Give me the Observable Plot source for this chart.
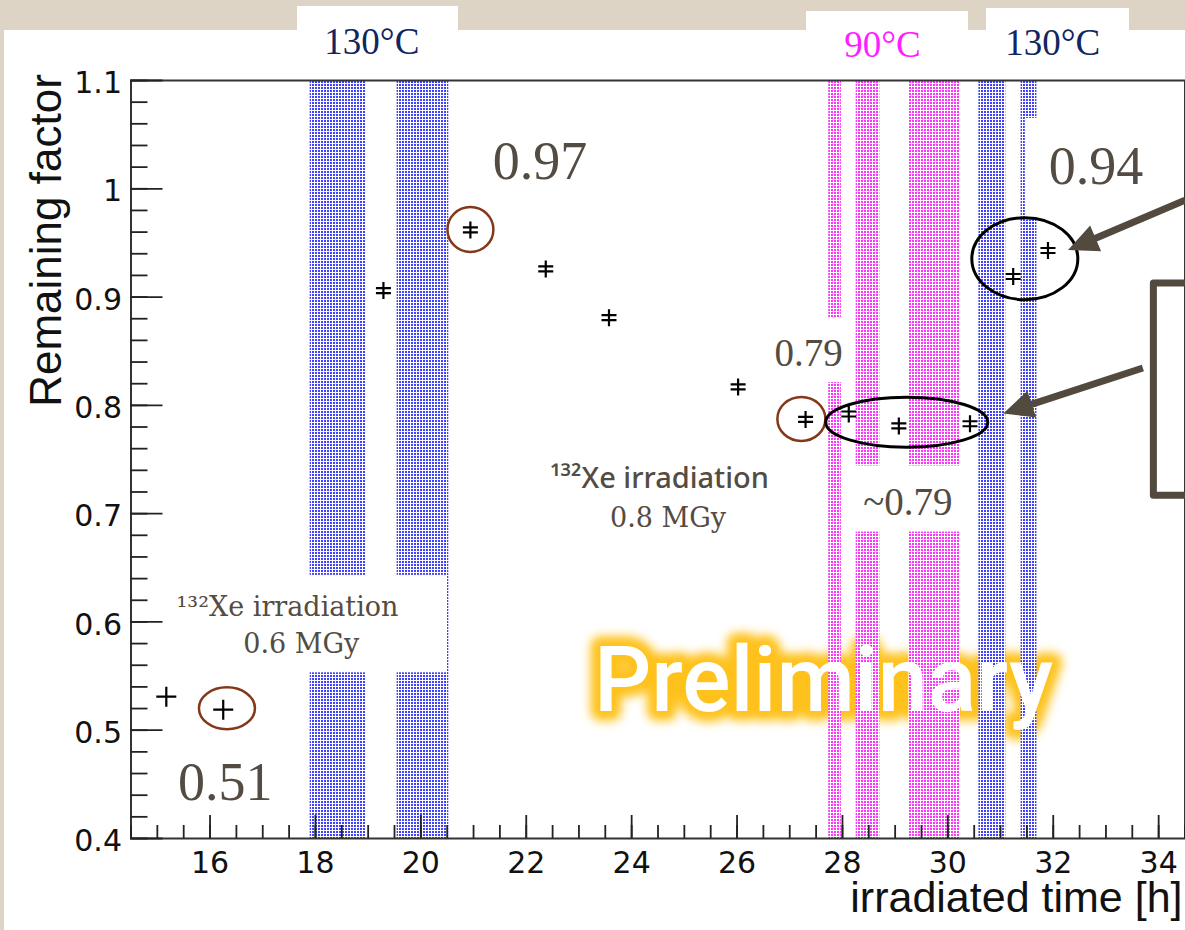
<!DOCTYPE html>
<html><head><meta charset="utf-8">
<script src="https://cdn.jsdelivr.net/npm/d3@7"></script>
<script src="https://cdn.jsdelivr.net/npm/@observablehq/plot@0.6"></script>
<style>
body{margin:0;background:#ddd4c5;}
#page{position:relative;width:1185px;height:930px;overflow:hidden;background:#ddd4c5;}
.w{position:absolute;background:#fff;}
#chart{position:absolute;left:0;top:0;}
</style></head><body>
<svg width="0" height="0" style="position:absolute">
<defs>
<pattern id="blueDots" width="3" height="3" patternUnits="userSpaceOnUse">
 <rect width="3" height="3" fill="#fff"/>
 <rect x="0" y="0" width="2" height="2" fill="#4040ff"/>
</pattern>
<pattern id="magentaDots" width="3" height="3" patternUnits="userSpaceOnUse">
 <rect width="3" height="3" fill="#fff"/>
 <rect x="0" y="0" width="2" height="2" fill="#ff34ff"/>
</pattern>
<filter id="glow" x="-20%" y="-50%" width="140%" height="200%"><feGaussianBlur stdDeviation="5"/></filter>
</defs></svg>
<div id="page">
 <div class="w" style="left:4px;top:30px;width:1181px;height:900px"></div>
 <div class="w" style="left:297px;top:6px;width:161px;height:30px"></div>
 <div class="w" style="left:806px;top:11px;width:162px;height:25px"></div>
 <div class="w" style="left:986px;top:8px;width:143px;height:28px"></div>
 <div id="chart"></div>
</div>
<script>
// ---- data ----
const times   = [15.17, 16.25, 19.29, 20.94, 22.37, 23.57, 26.02, 27.30, 28.12, 29.07, 30.42, 31.24, 31.90];
const factors = [0.531, 0.519, 0.906, 0.962, 0.926, 0.881, 0.817, 0.787, 0.792, 0.781, 0.783, 0.919, 0.943];
const blueBandStart    = [17.90, 19.55, 30.59, 31.39];
const blueBandEnd      = [18.95, 20.53, 31.10, 31.69];
const magentaBandStart = [27.74, 28.26, 29.26];
const magentaBandEnd   = [27.98, 28.71, 30.24];
const xTickLabels = [16, 18, 20, 22, 24, 26, 28, 30, 32, 34];
const yTickLabels = [0.4, 0.5, 0.6, 0.7, 0.8, 0.9, 1, 1.1];
const xTitle = "irradiated time [h]";
const yTitle = "Remaining factor";

// annotation boxes (white cut-outs on the slide), in data units
const boxX1 = [15.06, 26.54, 28.17, 31.47];
const boxX2 = [20.50, 28.08, 30.39, 33.84];
const boxY1 = [0.553, 0.821, 0.683, 0.971];
const boxY2 = [0.643, 0.881, 0.744, 1.065];

// temperature labels
const tempText = ["130°C", "90°C", "130°C"];
const tempX = [19.07, 28.76, 31.99];
const tempY = [1.1357, 1.1330, 1.1348];
// big value labels
const valText = ["0.97", "0.94", "0.51"];
const valX = [22.26, 32.81, 16.29];
const valY = [1.0254, 1.0208, 0.4511];
const midText = ["0.79", "~0.79"];
const midX = [27.36, 29.24];
const midY = [0.848, 0.710];
// irradiation notes
const noteText = ["¹³²Xe irradiation", "0.6 MGy", "0.8 MGy"];
const noteX = [17.47, 17.73, 24.69];
const noteY = [0.6136, 0.5794, 0.6958];
const note2Text = ["¹³²Xe irradiation"];
const note2X = [24.53];
const note2Y = [0.7324];
const prelimText = ["Preliminary"];
const prelimX = [27.64];
const prelimY = [0.5442];
// ellipses
const ellX = [16.33, 20.95, 27.23, 29.23, 31.47];
const ellY = [0.5198, 0.962, 0.787, 0.784, 0.935];
const ellKind = ["brown", "brown", "brown", "black", "black"];
// arrows
const arrowX1 = [34.51, 33.71];
const arrowY1 = [0.989, 0.834];
const arrowX2 = [32.29, 31.06];
const arrowY2 = [0.943, 0.792];
// bracket box on the right
const bracketX = [34.7, 33.90, 33.90, 34.7];
const bracketY = [0.913, 0.913, 0.717, 0.717];

// ---- build ----
const points = times.map((t, i) => ({t, f: factors[i], i}));
const blueBands = blueBandStart.map((s, i) => ({s, e: blueBandEnd[i]}));
const magBands = magentaBandStart.map((s, i) => ({s, e: magentaBandEnd[i]}));
const boxes = boxX1.map((x1, i) => ({x1, x2: boxX2[i], y1: boxY1[i], y2: boxY2[i]}));
const zip = (T, X, Y) => T.map((text, i) => ({text, x: X[i], y: Y[i]}));
const xMinor = d3.range(14.5, 34.5001, 0.5);
const yMinor = d3.range(0.4, 1.1001, 0.02);

const errSymbol = {draw(ctx) {
  ctx.moveTo(0, -8.5); ctx.lineTo(0, 8.5);
  ctx.moveTo(-7.5, -2.5); ctx.lineTo(7.5, -2.5);
  ctx.moveTo(-7.5, 2.5); ctx.lineTo(7.5, 2.5);
}};

const serif = "Liberation Serif, DejaVu Serif, serif";
const gray = "#544c42";

const chart = Plot.plot({
  width: 1185, height: 930,
  marginLeft: 130.5, marginRight: 0.5, marginTop: 80, marginBottom: 92,
  style: {background: "transparent", overflow: "visible"},
  x: {domain: [14.5, 34.5], axis: null},
  y: {domain: [0.4, 1.1], axis: null},
  marks: [
    Plot.text(zip(prelimText, prelimX, prelimY), {x: "x", y: "y", text: "text", fontSize: 90, fontFamily: "Roboto, sans-serif", fontWeight: 500, fill: "#ffc21f", stroke: "#ffc21f", strokeWidth: 20, strokeLinejoin: "round"}),
    Plot.rect(blueBands, {x1: "s", x2: "e", y1: 0.4, y2: 1.1, fill: "url(#blueDots)"}),
    Plot.rect(magBands, {x1: "s", x2: "e", y1: 0.4, y2: 1.1, fill: "url(#magentaDots)"}),
    Plot.rect(boxes, {x1: "x1", x2: "x2", y1: "y1", y2: "y2", fill: "white"}),
    Plot.frame({stroke: "#333", strokeWidth: 2}),
    Plot.axisX({ticks: xMinor, tickSize: -13, tickFormat: () => "", stroke: "#222", strokeWidth: 1.8}),
    Plot.axisX({ticks: xTickLabels, tickSize: -23, tickPadding: 0, tickFormat: () => "", stroke: "#222", strokeWidth: 1.8}),
    Plot.axisX({ticks: xTickLabels, tickSize: 0, tickPadding: 13, fontSize: 30, fontFamily: "DejaVu Sans, sans-serif", fill: "#111"}),
    Plot.axisY({ticks: yMinor, tickSize: -17, tickFormat: () => "", stroke: "#222", strokeWidth: 1.8}),
    Plot.axisY({ticks: yTickLabels, tickSize: -32, tickFormat: () => "", stroke: "#222", strokeWidth: 1.8}),
    Plot.axisY({ticks: yTickLabels, tickSize: 0, tickPadding: 9, dy: 3, fontSize: 30, fontFamily: "DejaVu Sans, sans-serif", fill: "#111", tickFormat: d => String(d)}),
    Plot.text([xTitle], {frameAnchor: "bottom-right", textAnchor: "end", lineAnchor: "bottom", dx: -2.5, dy: 73, fontSize: 43, fontFamily: "Liberation Sans, Arial, sans-serif", fill: "#111"}),
    Plot.text([yTitle], {frameAnchor: "left", textAnchor: "middle", lineAnchor: "middle", rotate: -90, dx: -84, dy: -219, fontSize: 44, fontFamily: "Liberation Sans, Arial, sans-serif", fill: "#111"}),
    Plot.dot(points.filter(d => d.i < 2), {x: "t", y: "f", symbol: "plus", r: 6.5, stroke: "#000", strokeWidth: 2.2, fill: "none"}),
    Plot.dot(points.filter(d => d.i >= 2), {x: "t", y: "f", symbol: errSymbol, stroke: "#000", strokeWidth: 2.2, fill: "none"}),
    Plot.text(zip(tempText, tempX, tempY), {x: "x", y: "y", text: "text", fontSize: 37, fontFamily: serif, fill: (d, i) => i === 1 ? "#ff1eff" : "#0f2660"}),
    Plot.text(zip(valText, valX, valY), {x: "x", y: "y", text: "text", fontSize: 54, fontFamily: serif, fill: gray}),
    Plot.text(zip(midText, midX, midY), {x: "x", y: "y", text: "text", fontSize: 39, fontFamily: serif, fill: gray}),
    Plot.text(zip(noteText, noteX, noteY), {x: "x", y: "y", text: "text", fontSize: 27, fontFamily: "DejaVu Serif, serif", fill: gray}),
    Plot.text(zip(note2Text, note2X, note2Y), {x: "x", y: "y", text: "text", fontSize: 29, fontWeight: 500, fontFamily: "Noto Sans, sans-serif", fill: gray}),
    Plot.line(bracketX.map((x, i) => ({x, y: bracketY[i]})), {x: "x", y: "y", stroke: "#524a3f", strokeWidth: 7, curve: "linear"}),
    Plot.text(zip(prelimText, prelimX, prelimY), {x: "x", y: "y", text: "text", fontSize: 90, fontFamily: "Roboto, sans-serif", fontWeight: 500, fill: "#ffffff"})
  ]
});
document.getElementById("chart").appendChild(chart);

// post: glow, ellipses, arrows
const svg = d3.select(chart);
svg.selectAll('g[fill="#ffc21f"]').attr("filter", "url(#glow)");
const sx = chart.scale("x"), sy = chart.scale("y");
const X = v => sx.apply(v), Y = v => sy.apply(v);
const ellR = {brown: [[28, 21], [23, 22.5], [24, 22]], black: [[81, 25], [53, 41]]};
let bi = 0, ki = 0;
const ellG = svg.append("g").attr("fill", "none");
ellX.forEach((x, i) => {
  const k = ellKind[i];
  const r = k === "brown" ? ellR.brown[bi++] : ellR.black[ki++];
  ellG.append("ellipse").attr("cx", X(x)).attr("cy", Y(ellY[i]))
    .attr("rx", r[0]).attr("ry", r[1])
    .attr("stroke", k === "brown" ? "#84381a" : "#000")
    .attr("stroke-width", k === "brown" ? 2.5 : 3);
});
const arG = svg.append("g");
arrowX1.forEach((x1, i) => {
  const ax = X(x1), ay = Y(arrowY1[i]), bx = X(arrowX2[i]), by = Y(arrowY2[i]);
  const dx = bx - ax, dy = by - ay, L = Math.hypot(dx, dy), ux = dx / L, uy = dy / L;
  const hl = 30, hw = 14;
  const baseX = bx - ux * hl, baseY = by - uy * hl;
  arG.append("line").attr("x1", ax).attr("y1", ay).attr("x2", baseX + ux * 2).attr("y2", baseY + uy * 2)
    .attr("stroke", "#524a3f").attr("stroke-width", 7);
  arG.append("polygon").attr("fill", "#524a3f")
    .attr("points", [[bx, by], [baseX - uy * hw, baseY + ux * hw], [baseX + uy * hw, baseY - ux * hw]].map(p => p.join(",")).join(" "));
});
</script>
</body></html>
